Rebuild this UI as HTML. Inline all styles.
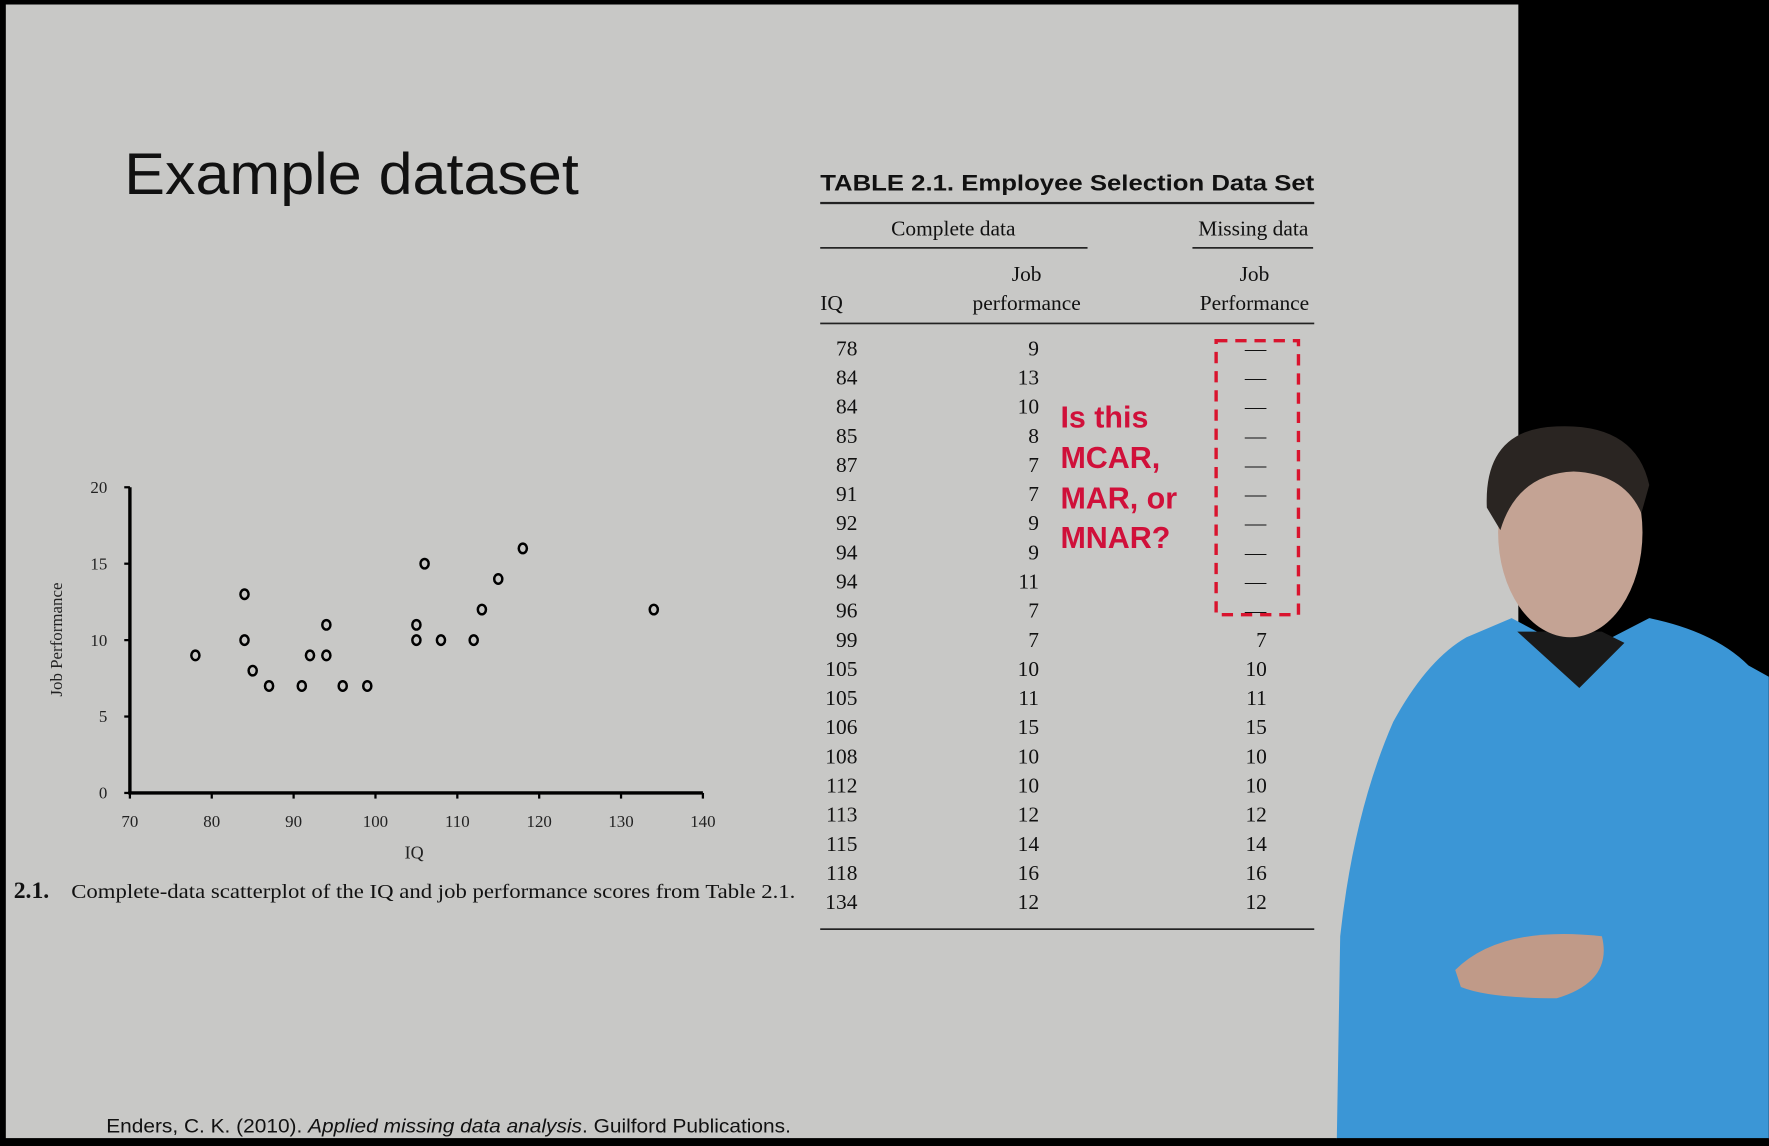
<!DOCTYPE html>
<html><head><meta charset="utf-8"><style>
html,body{margin:0;padding:0;background:#000;}
svg{display:block;}
.serif{font-family:"Liberation Serif","DejaVu Serif",serif;}
.sans{font-family:"Liberation Sans","DejaVu Sans",sans-serif;}
</style></head><body>
<svg id="root" width="1769" height="1146" viewBox="0 0 1568 1016" xmlns="http://www.w3.org/2000/svg">
<rect x="0" y="0" width="1568" height="1016" fill="#000"/>
<rect x="5" y="4" width="1341" height="1005" fill="#c8c8c6"/>
<text x="110" y="172" class="sans" font-size="52" fill="#111" textLength="403" lengthAdjust="spacingAndGlyphs">Example dataset</text>

<g id="chart"></g>

<text x="12" y="796" class="serif" font-size="21" font-weight="bold" fill="#111">2.1.</text>
<text x="63" y="796" class="serif" font-size="18.2" fill="#111" textLength="642" lengthAdjust="spacingAndGlyphs">Complete-data scatterplot of the IQ and job performance scores from Table 2.1.</text>

<g id="table">
<text x="727" y="169" class="sans" font-size="20" font-weight="bold" fill="#111" textLength="438" lengthAdjust="spacingAndGlyphs">TABLE 2.1. Employee Selection Data Set</text>
<rect x="727" y="179" width="438" height="2" fill="#222"/>
<text x="845" y="209" text-anchor="middle" class="serif" font-size="19" fill="#111">Complete data</text>
<rect x="727" y="219" width="237" height="1.5" fill="#222"/>
<text x="1111" y="209" text-anchor="middle" class="serif" font-size="19" fill="#111">Missing data</text>
<rect x="1057" y="219" width="107" height="1.5" fill="#222"/>
<text x="727" y="275" class="serif" font-size="19" fill="#111">IQ</text>
<text x="910" y="249" text-anchor="middle" class="serif" font-size="19" fill="#111">Job</text>
<text x="910" y="275" text-anchor="middle" class="serif" font-size="19" fill="#111">performance</text>
<text x="1112" y="249" text-anchor="middle" class="serif" font-size="19" fill="#111">Job</text>
<text x="1112" y="275" text-anchor="middle" class="serif" font-size="19" fill="#111">Performance</text>
<rect x="727" y="286" width="438" height="1.5" fill="#222"/>
<rect x="727" y="823" width="438" height="1.5" fill="#222"/>
<rect x="1078" y="302" width="73" height="243" fill="none" stroke="#d9142e" stroke-width="3" stroke-dasharray="10,7"/>
<g class="sans" font-size="27" font-weight="bold" fill="#d0103a">
<text x="940" y="379">Is this</text>
<text x="940" y="415">MCAR,</text>
<text x="940" y="451">MAR, or</text>
<text x="940" y="486">MNAR?</text>
</g>
</g>

<text x="94" y="1004" class="sans" font-size="17" fill="#111" textLength="607" lengthAdjust="spacingAndGlyphs">Enders, C. K. (2010). <tspan font-style="italic">Applied missing data analysis</tspan>. Guilford Publications.</text>

<g>
<rect x="1346" y="0" width="222" height="1016" fill="#000"/>
<path d="M1185,1010 L1188,830 Q1200,720 1235,640 Q1265,585 1300,565 L1340,548 L1400,580 L1462,548 Q1520,560 1550,590 L1568,600 L1568,1010 Z" fill="#3b96d6"/>
<path d="M1345,560 L1400,610 L1440,570 L1420,560 Z" fill="#1a1a1a"/>
<ellipse cx="1392" cy="472" rx="64" ry="93" fill="#c4a394"/>
<path d="M1318,450 Q1315,380 1380,378 Q1450,375 1462,430 L1455,455 Q1440,420 1395,418 Q1345,420 1330,470 Z" fill="#2a2522"/>
<path d="M1290,860 Q1330,820 1420,830 Q1430,870 1380,885 Q1320,885 1295,875 Z" fill="#c09a88"/>
<rect x="1185" y="1009" width="383" height="7" fill="#000"/>
</g>
</svg>
<script>
const iqValues = [78,84,84,85,87,91,92,94,94,96,99,105,105,106,108,112,113,115,118,134];
const perfValues = [9,13,10,8,7,7,9,9,11,7,7,10,11,15,10,10,12,14,16,12];
const missingValues = [null,null,null,null,null,null,null,null,null,null,7,10,11,15,10,10,12,14,16,12];
const xTicks = [70,80,90,100,110,120,130,140];
const yTicks = [0,5,10,15,20];

const NS = 'http://www.w3.org/2000/svg';
const X0 = 115, X1 = 623, Y0 = 703, Y1 = 432;
function xScale(v){ return X0 + (v - 70) / 70 * (X1 - X0); }
function yScale(v){ return Y0 - v / 20 * (Y0 - Y1); }
function mk(tag, attrs, parent){ const e = document.createElementNS(NS, tag); for (const k in attrs) e.setAttribute(k, attrs[k]); parent.appendChild(e); return e; }

const chart = document.getElementById('chart');
let a = mk('line', {x1:X0, y1:Y0, x2:X0, y2:Y1, stroke:'#000', 'stroke-width':3}, chart);


a = mk('line', {x1:X0-1.5, y1:Y0, x2:X1, y2:Y0, stroke:'#000', 'stroke-width':3}, chart);


xTicks.forEach(t => {
  const x = xScale(t);
  const tk = mk('line', {x1:x, y1:Y0, x2:x, y2:Y0+5, stroke:'#000', 'stroke-width':2}, chart);
  
  
  const lb = mk('text', {x:x, y:Y0+30, 'text-anchor':'middle', class:'serif', 'font-size':15, fill:'#222'}, chart);
  lb.textContent = t;
  
  
});
yTicks.forEach(t => {
  const y = yScale(t);
  const tk = mk('line', {x1:X0-5, y1:y, x2:X0, y2:y, stroke:'#000', 'stroke-width':2}, chart);
  
  
  const lb = mk('text', {x:X0-20, y:y+5, 'text-anchor':'end', class:'serif', 'font-size':15, fill:'#222'}, chart);
  lb.textContent = t;
  
  
});
let t = mk('text', {x:367, y:761, 'text-anchor':'middle', class:'serif', 'font-size':16, fill:'#222'}, chart);
t.textContent = 'IQ';


t = mk('text', {x:0, y:0, 'text-anchor':'middle', class:'serif', 'font-size':15, fill:'#222', transform:'translate(55,567) rotate(-90)'}, chart);
t.textContent = 'Job Performance';


iqValues.forEach((v, i) => {
  const c = mk('ellipse', {cx:xScale(v), cy:yScale(perfValues[i]), rx:3.6, ry:4.2, fill:'none', stroke:'#000', 'stroke-width':2.2}, chart);
  
  
});

const table = document.getElementById('table');
const rowY0 = 315, rowStep = (806 - 315) / 19;
iqValues.forEach((v, i) => {
  const y = rowY0 + i * rowStep;
  let e = mk('text', {x:760, y:y, 'text-anchor':'end', class:'serif', 'font-size':19, fill:'#111'}, table);
  e.textContent = v;
  
  
  e = mk('text', {x:921, y:y, 'text-anchor':'end', class:'serif', 'font-size':19, fill:'#111'}, table);
  e.textContent = perfValues[i];
  
  
  const m = missingValues[i];
  e = mk('text', {x:m === null ? 1113 : 1123, y:y, 'text-anchor':m === null ? 'middle' : 'end', class:'serif', 'font-size':19, fill:'#111'}, table);
  e.textContent = m === null ? '—' : m;
  
  
});
</script>
</body></html>
